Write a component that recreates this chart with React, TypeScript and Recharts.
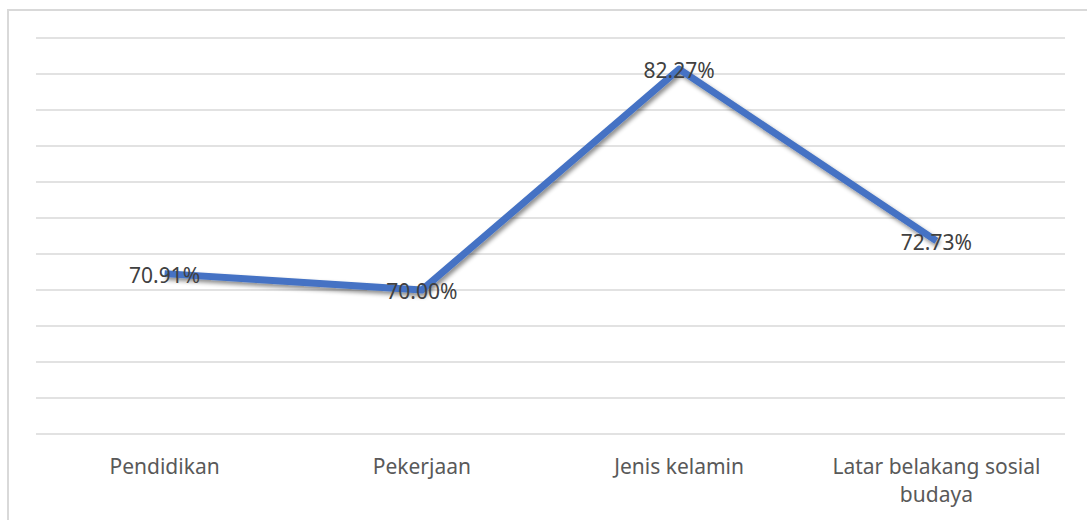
import { LineChart, Line, XAxis, YAxis, CartesianGrid, LabelList } from 'recharts';

const categories = ['Pendidikan', 'Pekerjaan', 'Jenis kelamin', 'Latar belakang sosial budaya'];
const values = [70.91, 70.0, 82.27, 72.73];
const yTicks = [62, 64, 66, 68, 70, 72, 74, 76, 78, 80, 82, 84];

const chartData = categories.map((name, i) => ({ name, value: values[i] }));

const FONT = '"Noto Sans", "Open Sans", sans-serif';

// wraps long category names onto two lines like the original
function CategoryTick(props: any) {
  const { x, y, payload } = props;
  const text: string = payload.value;
  const lines = text.length > 20 ? ['Latar belakang sosial', 'budaya'] : [text];
  return (
    <text x={x} y={y} textAnchor="middle" fill="#595959" fontSize={21} fontFamily={FONT}>
      {lines.map((l, i) => (
        <tspan key={i} x={x} dy={i === 0 ? 32 : 28}>{l}</tspan>
      ))}
    </text>
  );
}

function ValueLabel(props: any) {
  const { x, y, value } = props;
  return (
    <text x={x} y={y + 1} textAnchor="middle" dominantBaseline="central" fill="#404040" fontSize={21} fontFamily={FONT}>
      {Number(value).toFixed(2)}%
    </text>
  );
}

export default function App() {
  return (
    <div style={{ position: 'absolute', left: 0, top: 0, width: 1087, height: 520, background: '#fff', overflow: 'hidden' }}>
      <style>{`.recharts-line-curve { filter: url(#lineShadow); }`}</style>
      <svg width={0} height={0} style={{ position: 'absolute' }}>
        <defs>
          <filter id="lineShadow" x="-10%" y="-10%" width="120%" height="130%">
            <feDropShadow dx="2" dy="3" stdDeviation="2" floodColor="#000" floodOpacity="0.45" />
          </filter>
        </defs>
      </svg>
      <div style={{ position: 'absolute', left: 7, top: 9, width: 1090, height: 530, border: '2px solid #d9d9d9', boxSizing: 'border-box' }} />
      <div style={{ position: 'absolute', left: 0, top: 0 }}>
        <LineChart width={1087} height={520} data={chartData} margin={{ top: 38, right: 22, left: 36, bottom: 0 }}>
          <CartesianGrid vertical={false} stroke="#d9d9d9" strokeWidth={1.5} />
          <XAxis
            dataKey="name"
            height={86}
            axisLine={false}
            tickLine={false}
            interval={0}
            padding={{ left: 128.6, right: 128.6 }}
            tick={<CategoryTick />}
          />
          <YAxis hide domain={[62, 84]} ticks={yTicks} width={0} />
          <Line
            type="linear"
            dataKey="value"
            stroke="#4472C4"
            strokeWidth={7}
            strokeLinejoin="round"
            dot={false}
            activeDot={false}
            isAnimationActive={false}
          >
            <LabelList dataKey="value" content={<ValueLabel />} />
          </Line>
        </LineChart>
      </div>
    </div>
  );
}
